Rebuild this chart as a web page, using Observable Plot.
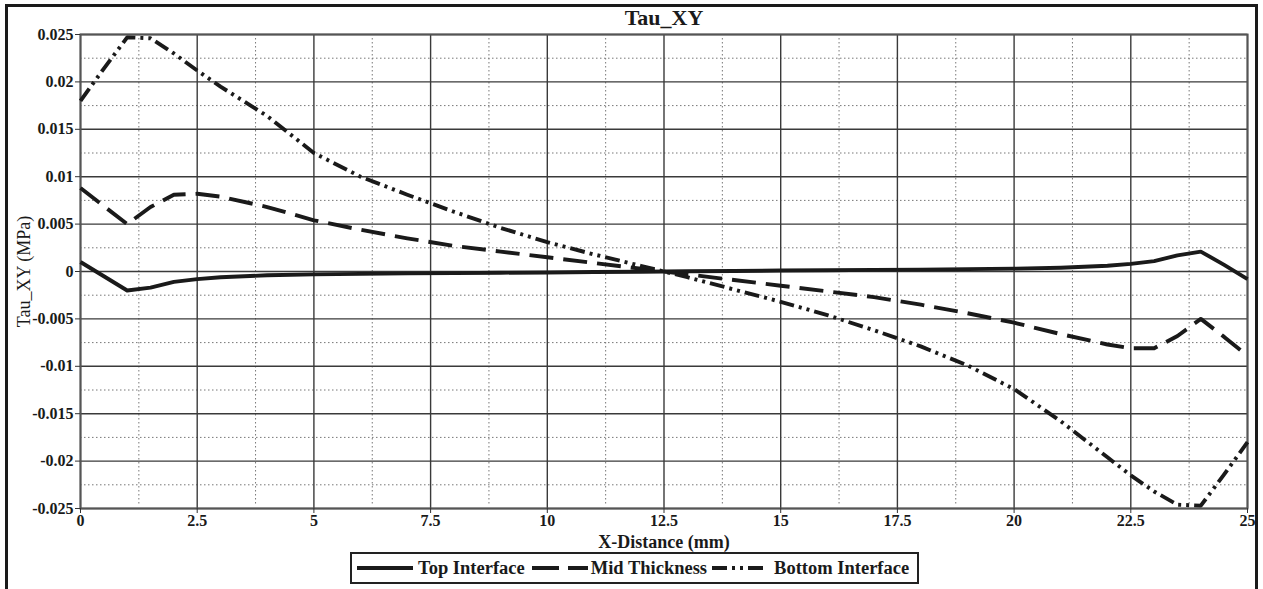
<!DOCTYPE html>
<html>
<head>
<meta charset="utf-8">
<script src="https://cdn.jsdelivr.net/npm/d3@7"></script>
<script src="https://cdn.jsdelivr.net/npm/@observablehq/plot@0.6"></script>
<style>
  html, body { margin: 0; padding: 0; background: #fff; }
  body { position: relative; width: 1263px; height: 589px; overflow: hidden; font-family: "Liberation Serif", "Times New Roman", "DejaVu Serif", serif; }
  #chart { position: absolute; left: 0; top: 0; }
  #border { position: absolute; left: 5px; top: 4px; width: 1247px; height: 640px; border: 3px solid #1a1a1a; pointer-events: none; }
  #legend { position: absolute; left: 350px; top: 552px; height: 28px; width: 565px; border: 2px solid #222;
            background: #fff; display: flex; align-items: center; font-weight: bold; font-size: 18.5px; color: #1a1a1a; white-space: nowrap; }
  #legend .item { display: flex; align-items: center; }
  #legend svg { display: block; }
</style>
</head>
<body>
<div id="chart"></div>
<div id="border"></div>
<div id="legend"></div>
<script>
// X-distance positions along the section (mm)
const xDistance = [0, 0.5, 1, 1.5, 2, 2.5, 3, 4, 5, 6, 7, 8, 9, 10, 11, 12, 12.5, 13, 14, 15, 16, 17, 18, 19, 20, 21, 22, 22.5, 23, 23.5, 24, 24.5, 25];

// Shear stress Tau_XY (MPa) at each position
const topInterface = [0.0010, -0.0005, -0.0020, -0.0017, -0.0011, -0.0008, -0.0006, -0.0004, -0.0003, -0.00025, -0.0002, -0.00017, -0.00013, -0.0001, -0.00006, -0.00002, 0, 0.00002, 0.00006, 0.0001, 0.00013, 0.00017, 0.0002, 0.00025, 0.0003, 0.0004, 0.0006, 0.0008, 0.0011, 0.0017, 0.0021, 0.0007, -0.0008];
const midThickness = [0.0088, 0.0069, 0.0050, 0.0068, 0.0081, 0.0082, 0.0079, 0.0068, 0.0054, 0.0044, 0.0035, 0.0027, 0.0021, 0.0015, 0.0009, 0.0003, 0, -0.0003, -0.0009, -0.0015, -0.0021, -0.0027, -0.0035, -0.0044, -0.0054, -0.0066, -0.0077, -0.0081, -0.0081, -0.0068, -0.0050, -0.0069, -0.0089];
const bottomInterface = [0.0180, 0.0214, 0.0247, 0.0246, 0.0230, 0.0212, 0.0195, 0.0164, 0.0125, 0.0100, 0.0081, 0.0063, 0.0046, 0.0031, 0.0018, 0.0006, 0, -0.0006, -0.0019, -0.0032, -0.0046, -0.0062, -0.0079, -0.0099, -0.0124, -0.0158, -0.0196, -0.0215, -0.0232, -0.0246, -0.0247, -0.0214, -0.0180];

const seriesNames = ["Top Interface", "Mid Thickness", "Bottom Interface"];
const seriesValues = [topInterface, midThickness, bottomInterface];
const seriesDash = [null, "24,10", "15,5,3,5,3,5"];

// Axis ticks
const xMajorTicks = [0, 2.5, 5, 7.5, 10, 12.5, 15, 17.5, 20, 22.5, 25];
const xMinorTicks = [1.25, 3.75, 6.25, 8.75, 11.25, 13.75, 16.25, 18.75, 21.25, 23.75];
const yMajorTicks = [-0.025, -0.02, -0.015, -0.01, -0.005, 0, 0.005, 0.01, 0.015, 0.02, 0.025];
const yMinorTicks = [-0.0225, -0.0175, -0.0125, -0.0075, -0.0025, 0.0025, 0.0075, 0.0125, 0.0175, 0.0225];

const ink = "#1a1a1a";
const serif = "'Liberation Serif', 'Times New Roman', 'DejaVu Serif', serif";
const lineWidth = 3.9;

const lineMarks = seriesNames.map((name, i) => {
  const rows = xDistance.map((x, j) => ({x, y: seriesValues[i][j]}));
  return Plot.line(rows, {x: "x", y: "y", stroke: ink, strokeWidth: lineWidth,
    strokeDasharray: seriesDash[i] || undefined, strokeLinejoin: "round", strokeLinecap: "butt"});
});

const chart = Plot.plot({
  width: 1263,
  height: 589,
  marginLeft: 80,
  marginRight: 16,
  marginTop: 34,
  marginBottom: 81,
  style: {fontFamily: serif, fontSize: "16px", fontWeight: "bold", color: ink, background: "transparent"},
  x: {domain: [0, 25]},
  y: {domain: [-0.025, 0.025]},
  marks: [
    Plot.gridX(xMinorTicks, {stroke: "#777", strokeOpacity: 1, strokeWidth: 1, strokeDasharray: "1.5,2.5", insetTop: 4, insetBottom: 4}),
    Plot.gridY(yMinorTicks, {stroke: "#777", strokeOpacity: 1, strokeWidth: 1, strokeDasharray: "1.5,2.5"}),
    Plot.gridX(xMajorTicks, {stroke: "#3a3a3a", strokeOpacity: 1, strokeWidth: 1.4}),
    Plot.gridY(yMajorTicks, {stroke: "#3a3a3a", strokeOpacity: 1, strokeWidth: 1.4}),
    Plot.frame({stroke: "#555", strokeWidth: 2}),
    Plot.axisX(xMajorTicks, {tickSize: 5, tickPadding: 1, tickFormat: d => String(d), label: null, stroke: "#333",
      fontSize: 16, fontFamily: serif, fontWeight: "bold"}),
    Plot.axisY(yMajorTicks, {tickSize: 5, tickPadding: 2, tickFormat: d => String(d), label: null, stroke: "#333",
      fontSize: 16, fontFamily: serif, fontWeight: "bold"}),
    ...lineMarks,
    Plot.text(["Tau_XY"], {frameAnchor: "top", lineAnchor: "middle", dy: -17, fontSize: 22, fontWeight: "bold", fontFamily: serif, fill: ink}),
    Plot.text(["X-Distance (mm)"], {frameAnchor: "bottom", lineAnchor: "middle", dy: 34, fontSize: 18, fontWeight: "bold", fontFamily: serif, fill: ink}),
    Plot.text(["Tau_XY (MPa)"], {frameAnchor: "left", textAnchor: "middle", lineAnchor: "middle", dx: -56, rotate: -90,
      fontSize: 18, fontWeight: "normal", fontFamily: serif, fill: ink})
  ]
});
document.getElementById("chart").appendChild(chart);

// Legend below the plot, with line samples in the same styles as the curves
const legend = d3.select("#legend");
const sampleWidths = [56, 56, 53];
const gapsBefore = [5, 7, 5];
const gapsAfter = [5, 3, 9];
seriesNames.forEach((name, i) => {
  const item = legend.append("div").attr("class", "item").style("margin-left", gapsBefore[i] + "px");
  const svg = item.append("svg").attr("width", sampleWidths[i]).attr("height", 12);
  svg.append("line").attr("x1", 0).attr("x2", sampleWidths[i]).attr("y1", 6).attr("y2", 6)
    .attr("stroke", ink).attr("stroke-width", lineWidth)
    .attr("stroke-dasharray", i === 1 ? "27,9" : seriesDash[i]);
  item.append("span").style("margin-left", gapsAfter[i] + "px").text(name);
});
</script>
</body>
</html>
